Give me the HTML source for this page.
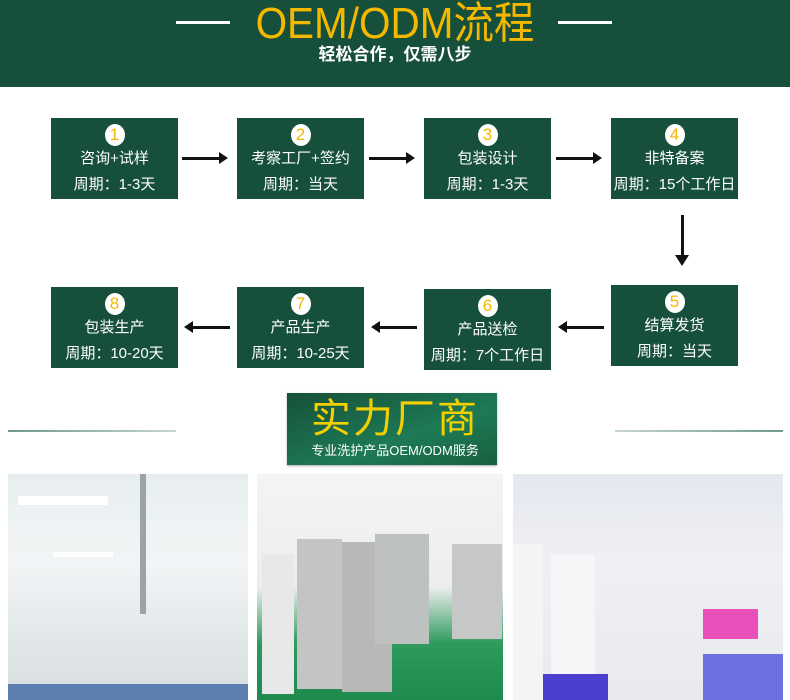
<!DOCTYPE html>
<html><head><meta charset="utf-8"><style>
*{margin:0;padding:0;box-sizing:border-box}
body{width:790px;height:700px;background:#fff;position:relative;overflow:hidden;font-family:"Liberation Sans","Noto Sans CJK SC",sans-serif}
.hdr{position:absolute;left:0;top:0;width:790px;height:87px;background:#17503a}
.t{position:absolute;left:0;width:790px;text-align:center}
.box{position:absolute;width:127px;height:81px;background:#17503a;color:#fff;text-align:center;font-size:15px;line-height:26px}
.num{width:20px;height:22px;border-radius:50%;background:#fff;color:#f5b800;margin:6px auto 0;font-size:17px;line-height:22px}
.ar{position:absolute;height:3px;background:#111}
.ar:after{content:"";position:absolute;right:-6px;top:-5px;border-left:9px solid #111;border-top:6.5px solid transparent;border-bottom:6.5px solid transparent}
.al{position:absolute;height:3px;background:#111}
.al:after{content:"";position:absolute;left:-6px;top:-5px;border-right:9px solid #111;border-top:6.5px solid transparent;border-bottom:6.5px solid transparent}
.ph{position:absolute;top:474px;height:226px;overflow:hidden}
</style></head><body>
<div class="hdr"></div>
<div style="position:absolute;left:176px;top:21px;width:54px;height:3px;background:#fff"></div>
<div style="position:absolute;left:558px;top:21px;width:54px;height:3px;background:#fff"></div>
<div class="t" style="top:0px;font-size:44px;color:#f5b800;line-height:48px;transform:scaleX(0.92)">OEM/ODM流程</div>
<div class="t" style="top:44px;font-size:17px;color:#fff;font-weight:bold;line-height:22px">轻松合作，仅需八步</div>

<div class="box" style="left:51px;top:118px"><div class="num">1</div>咨询+试样<br>周期：1-3天</div>
<div class="box" style="left:237px;top:118px"><div class="num">2</div>考察工厂+签约<br>周期：当天</div>
<div class="box" style="left:424px;top:118px"><div class="num">3</div>包装设计<br>周期：1-3天</div>
<div class="box" style="left:611px;top:118px"><div class="num">4</div>非特备案<br>周期：15个工作日</div>
<div class="ar" style="left:182px;top:157px;width:40px"></div>
<div class="ar" style="left:369px;top:157px;width:40px"></div>
<div class="ar" style="left:556px;top:157px;width:40px"></div>
<div style="position:absolute;left:681px;top:215px;width:3px;height:42px;background:#111"></div>
<div style="position:absolute;left:675px;top:255px;border-top:11px solid #111;border-left:7.5px solid transparent;border-right:7.5px solid transparent"></div>

<div class="box" style="left:51px;top:287px"><div class="num">8</div>包装生产<br>周期：10-20天</div>
<div class="box" style="left:237px;top:287px"><div class="num">7</div>产品生产<br>周期：10-25天</div>
<div class="box" style="left:424px;top:289px"><div class="num">6</div>产品送检<br>周期：7个工作日</div>
<div class="box" style="left:611px;top:285px"><div class="num">5</div>结算发货<br>周期：当天</div>
<div class="al" style="left:190px;top:326px;width:40px"></div>
<div class="al" style="left:377px;top:326px;width:40px"></div>
<div class="al" style="left:564px;top:326px;width:40px"></div>

<div style="position:absolute;left:8px;top:430px;width:168px;height:2px;background:linear-gradient(90deg,#6d9a88,#c6d6cf)"></div>
<div style="position:absolute;left:615px;top:430px;width:168px;height:2px;background:linear-gradient(90deg,#c6d6cf,#6d9a88)"></div>
<div style="position:absolute;left:287px;top:393px;width:210px;height:72px;background:linear-gradient(160deg,#17503a,#1d7a55 60%,#17603f);box-shadow:0 1px 2px #aaa"></div>
<div class="t" style="top:394px;font-size:40px;color:#f4d000;line-height:50px;letter-spacing:2px">实力厂商</div>
<div class="t" style="top:441px;font-size:13px;color:#fff;line-height:20px">专业洗护产品OEM/ODM服务</div>

<div class="ph" style="left:8px;width:240px;background:linear-gradient(180deg,#e8eef0 0%,#f2f5f6 40%,#e3e8ea 70%,#d8dde0 100%)">
<div style="position:absolute;left:10px;top:22px;width:90px;height:9px;background:#fff"></div>
<div style="position:absolute;left:45px;top:78px;width:60px;height:5px;background:#fff"></div>
<div style="position:absolute;left:132px;top:0;width:6px;height:140px;background:#9aa3a8"></div>
<div style="position:absolute;left:0;top:210px;width:240px;height:16px;background:#5d7fb0"></div>
</div>
<div class="ph" style="left:257px;width:246px;background:linear-gradient(180deg,#f3f4f3 0%,#eceeed 50%,#2e9a5c 75%,#1e8a4d 100%)">
<div style="position:absolute;left:40px;top:65px;width:45px;height:150px;background:#c4c4c4"></div>
<div style="position:absolute;left:85px;top:68px;width:50px;height:150px;background:#b8b8b6"></div>
<div style="position:absolute;left:118px;top:60px;width:54px;height:110px;background:#bdc2c0"></div>
<div style="position:absolute;left:195px;top:70px;width:50px;height:95px;background:#c6c8c8"></div>
<div style="position:absolute;left:5px;top:80px;width:32px;height:140px;background:#e8e8e8"></div>
</div>
<div class="ph" style="left:513px;width:270px;background:linear-gradient(180deg,#e6e8f0 0%,#eef0f4 40%,#e9e9ee 100%)">
<div style="position:absolute;left:0;top:70px;width:30px;height:156px;background:#f4f4f6"></div>
<div style="position:absolute;left:38px;top:80px;width:44px;height:146px;background:#f6f6f8"></div>
<div style="position:absolute;left:30px;top:200px;width:65px;height:26px;background:#4a3fd0"></div>
<div style="position:absolute;left:190px;top:135px;width:55px;height:30px;background:#e94fb9"></div>
<div style="position:absolute;left:190px;top:180px;width:80px;height:46px;background:#6e6fe0"></div>
</div>
</body></html>
